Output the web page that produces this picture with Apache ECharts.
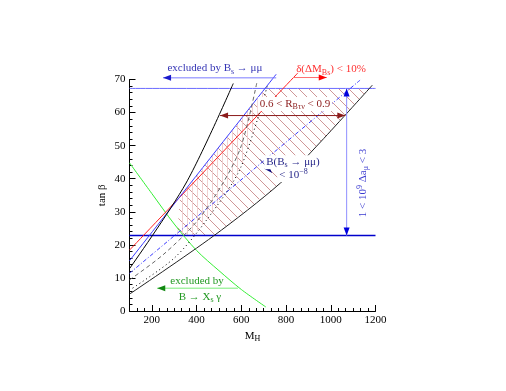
<!DOCTYPE html>
<html><head><meta charset="utf-8">
<script src="https://cdn.jsdelivr.net/npm/echarts@6/dist/echarts.min.js"></script>
<style>html,body{margin:0;padding:0;background:#fff}#c{width:506px;height:391px}</style>
</head><body><div id="c"></div>
<script>
// ---- data (M_H, tan beta) ----
const xTicks = [200, 400, 600, 800, 1000, 1200];
const yTicks = [0, 10, 20, 30, 40, 50, 60, 70];
const greenBsg = [[100,44.8],[200,35.5],[300,26.3],[400,18.3],[500,12.2],[600,6.5],[710,1.2]];
const redDeltaM = [[100,18.4],[853,72]];
const blueBsmumu = [[100,15.2],[756,71.6]];
const blueDash = [[100,11.4],[1131,69.8]];
const blackSteep = [[100,12.8],[353,38.7],[564,68.8]];
const grayDashSteep = [[100,9.4],[250,17],[400,27],[518,38.7],[600,50],[669,68.9]];
const blackDotted = [[100,6.3],[300,16],[450,28],[596,43.2],[716,68]];
const blackLower = [[100,5.1],[476,22.7],[775,38.7],[954,51.1],[1186,68.3]];
const amuLow = 22.8, amuHigh = 67.3;
const hatchRegion = [[313,22.8],[326,34.4],[706,67.3],[1170,67.3],[954,51.1],[775,38.7],[476,22.8]];
const rbtnRegion = [[313,22.8],[326,34.4],[706,67.3],[713,67.3],[596,43.2],[450,28],[385,22.8]];

const chart = echarts.init(document.getElementById('c'), null, {renderer:'canvas'});
function pattern(kind, color){
  const c = document.createElement('canvas');
  const n = kind==='diag'?10:5;
  c.width=n;c.height=n;
  const g=c.getContext('2d');
  g.strokeStyle=color;g.lineWidth=0.9;
  g.beginPath();
  if(kind==='diag'){g.moveTo(0,0);g.lineTo(n,n);g.moveTo(-n/2,n/2);g.lineTo(n/2,1.5*n);g.moveTo(n/2,-n/2);g.lineTo(1.5*n,n/2);}
  else {g.moveTo(2.5,0);g.lineTo(2.5,n);}
  g.stroke();
  return {image:c, repeat:'repeat'};
}
const serif = 'Liberation Serif';
const rich = {
  n:{fontFamily:serif, fontSize:11, lineHeight:14, verticalAlign:'middle'},
  s:{fontFamily:serif, fontSize:8, lineHeight:14, verticalAlign:'bottom'},
  p:{fontFamily:serif, fontSize:8, lineHeight:14, verticalAlign:'top'}
};
function line(data, color, type, width){
  return {type:'line', data, showSymbol:false, symbol:'none', clip:false, silent:true, smooth:0.3,
    lineStyle:{color, type: type||'solid', width: width||1}, z:3};
}
function polySeries(region, fill){
  return {type:'custom', silent:true, z:1, clip:false,
    data:[0],
    renderItem:(params, api)=>({type:'polygon', shape:{points: region.map(p=>api.coord(p))}, style:{fill}})
  };
}
const option = {
  animation:false,
  grid:{left:129.5, right:130.5, top:79.5, bottom:80},
  xAxis:[{type:'value', min:100, max:1200,
    axisLine:{lineStyle:{color:'#000', width:1}},
    axisTick:{inside:true, length:6, customValues:xTicks, lineStyle:{color:'#000'}},
    axisLabel:{color:'#000', fontFamily:serif, fontSize:11, margin:4, customValues:xTicks, formatter:v=>String(v)},
    splitLine:{show:false},
    name:'{n|M}{s|H}', nameLocation:'middle', nameGap:15,
    nameTextStyle:{color:'#000', rich}
  },{type:'value', min:100, max:1200, interval:100/3, position:'bottom',
    axisLine:{show:false}, axisLabel:{show:false}, splitLine:{show:false},
    axisTick:{inside:true, length:3, lineStyle:{color:'#000'}}
  }],
  yAxis:{type:'value', min:0, max:70, interval:10,
    axisLine:{show:true, lineStyle:{color:'#000'}},
    axisTick:{inside:true, length:6, lineStyle:{color:'#000'}},
    minorTick:{show:true, splitNumber:5, length:3, lineStyle:{color:'#000'}},
    axisLabel:{color:'#000', fontFamily:serif, fontSize:11, margin:4},
    splitLine:{show:false},
    name:'tan β', nameLocation:'middle', nameGap:22,
    nameTextStyle:{color:'#000', fontFamily:serif, fontSize:11}
  },
  series:[
    polySeries(hatchRegion, pattern('diag','#c98a8a')),
    polySeries(rbtnRegion, pattern('vert','#efcccc')),
    line([[100,amuHigh],[1200,amuHigh]], '#6a6aff'),
    line([[100,amuLow],[1200,amuLow]], '#0000cc', 'solid', 1.5),
    line(greenBsg, '#33ee33'),
    line(redDeltaM, '#ff2020'),
    line(blueBsmumu, '#3a3aff'),
    line(blueDash, '#3a3aff', [4,2,1,2]),
    line(blackSteep, '#000'),
    line(grayDashSteep, '#666', [4,3]),
    line(blackDotted, '#000', [1,3]),
    line(blackLower, '#222'),
  ]
};
chart.setOption(option);

// ---- annotations (anchored in data space) ----
const P = d => chart.convertToPixel({gridIndex:0}, d);
function arrow(a, b, lineColor, headColor, both){
  const pa=P(a), pb=P(b);
  const els=[{type:'line', z:50, silent:true, shape:{x1:pa[0],y1:pa[1],x2:pb[0],y2:pb[1]}, style:{stroke:lineColor, lineWidth:1}}];
  const head=(tip, from)=>{
    const dx=tip[0]-from[0], dy=tip[1]-from[1], L=Math.hypot(dx,dy), ux=dx/L, uy=dy/L;
    const len=8, w=3;
    const bx=tip[0]-ux*len, by=tip[1]-uy*len;
    return {type:'polygon', z:51, silent:true, shape:{points:[tip,[bx-uy*w,by+ux*w],[bx+uy*w,by-ux*w]]}, style:{fill:headColor}};
  };
  els.push(head(pb,pa));
  if(both) els.push(head(pa,pb));
  return els;
}
function label(d, text, color, rot, bg){
  const p=P(d);
  return {type:'text', z:60, silent:true, x:p[0], y:p[1], rotation:rot||0,
    style:{text, fill:color, align:'center', verticalAlign:'middle', rich:JSON.parse(JSON.stringify(rich)), fontFamily:serif, fontSize:11,
      backgroundColor: bg||'transparent', padding: bg?[0,2]:0}};
}
const g=[];
g.push(...arrow([756,70.5],[250,70.5],'#7a7aff','#1a1acc'));
g.push(label([482,73.3],'{n|excluded by B}{s|s}{n| → μμ}','#3535b5'));
g.push(...arrow([831,70.6],[982,70.6],'#ff7070','#ff0000'));
g.push(label([1001,73.0],'{n|δ(ΔM}{s|Bs}{n|) < 10%}','#ff3030'));
g.push(...arrow([505,59.1],[1065,59.1],'#8b1a1a','#8b1a1a',true));
g.push(label([840,62.6],'{n|0.6 < R}{s|Bτν}{n| < 0.9}','#8b1a1a',0,'#fff'));
g.push(...arrow([1071,amuHigh],[1071,amuLow],'#9090ff','#0000dd',true));
g.push(label([1144,38.7],'{n|1 < 10}{p|9}{n| Δa}{s|μ}{n| < 3}','#3a3ad0',Math.PI/2));
g.push(...arrow([683,45.9],[736,41.8],'#5050a0','#0a0a80'));
g.push(label([831,45.0],'{n|B(B}{s|s}{n| → μμ)}','#28288a',0,'#fff'));
g.push(label([833,41.1],'{n|< 10}{p|−8}','#28288a',0,'#fff'));
g.push(...arrow([585,6.9],[224,6.9],'#77ee77','#118811'));
g.push(label([402,9.1],'{n|excluded by}','#229922'));
g.push(label([415,4.2],'{n|B → X}{s|s}{n| γ}','#229922'));
chart.setOption({graphic:g});
</script></body></html>
